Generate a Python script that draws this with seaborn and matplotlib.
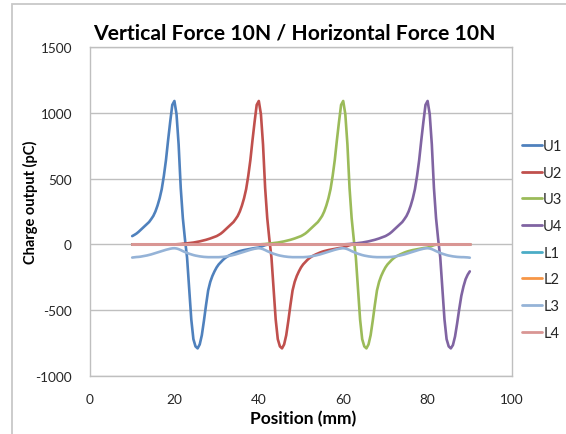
import matplotlib
matplotlib.use("Agg")
import matplotlib.pyplot as plt
import matplotlib.patches as mpatches
import seaborn as sns
import pandas as pd

positions = [
    10, 10.5, 11, 11.5, 12, 12.5, 13, 13.5, 14, 14.5, 15, 15.5, 16, 16.5, 17, 17.5, 18, 18.5, 19, 19.5,
    20, 20.5, 21, 21.5, 22, 22.5, 23, 23.5, 24, 24.5, 25, 25.5, 26, 26.5, 27, 27.5, 28, 28.5, 29, 29.5,
    30, 30.5, 31, 31.5, 32, 32.5, 33, 33.5, 34, 34.5, 35, 35.5, 36, 36.5, 37, 37.5, 38, 38.5, 39, 39.5,
    40, 40.5, 41, 41.5, 42, 42.5, 43, 43.5, 44, 44.5, 45, 45.5, 46, 46.5, 47, 47.5, 48, 48.5, 49, 49.5,
    50, 50.5, 51, 51.5, 52, 52.5, 53, 53.5, 54, 54.5, 55, 55.5, 56, 56.5, 57, 57.5, 58, 58.5, 59, 59.5,
    60, 60.5, 61, 61.5, 62, 62.5, 63, 63.5, 64, 64.5, 65, 65.5, 66, 66.5, 67, 67.5, 68, 68.5, 69, 69.5,
    70, 70.5, 71, 71.5, 72, 72.5, 73, 73.5, 74, 74.5, 75, 75.5, 76, 76.5, 77, 77.5, 78, 78.5, 79, 79.5,
    80, 80.5, 81, 81.5, 82, 82.5, 83, 83.5, 84, 84.5, 85, 85.5, 86, 86.5, 87, 87.5, 88, 88.5, 89, 89.5,
    90,
]

U1 = [
    63, 72, 82, 95, 110, 125, 140, 155, 170, 192, 216, 250, 295, 350, 420, 520, 640, 790, 930, 1060,
    1090, 990, 760, 430, 200, 40, -100, -340, -570, -720, -775, -790, -760, -690, -580, -460, -350, -285, -240, -205,
    -175, -152, -135, -118, -104, -93, -84, -76, -69, -62, -56, -51, -47, -43, -40, -37, -34, -31, -28, -26,
    -24, -18, -12, -6, -2, 0, 0, 0, 0, 0, 0, 0, 0, 0, 0, 0, 0, 0, 0, 0,
    0, 0, 0, 0, 0, 0, 0, 0, 0, 0, 0, 0, 0, 0, 0, 0, 0, 0, 0, 0,
    0, 0, 0, 0, 0, 0, 0, 0, 0, 0, 0, 0, 0, 0, 0, 0, 0, 0, 0, 0,
    0, 0, 0, 0, 0, 0, 0, 0, 0, 0, 0, 0, 0, 0, 0, 0, 0, 0, 0, 0,
    0, 0, 0, 0, 0, 0, 0, 0, 0, 0, 0, 0, 0, 0, 0, 0, 0, 0, 0, 0,
    0,
]

U2 = [
    0, 0, 0, 0, 0, 0, 0, 0, 0, 0, 0, 0, 0, 0, 0, 0, 0, 0, 0, 0,
    0, 1, 2, 3, 5, 6, 8, 10, 12, 14, 17, 20, 23, 27, 31, 35, 40, 45, 51, 57,
    63, 72, 82, 95, 110, 125, 140, 155, 170, 192, 216, 250, 295, 350, 420, 520, 640, 790, 930, 1060,
    1090, 990, 760, 430, 200, 40, -100, -340, -570, -720, -775, -790, -760, -690, -580, -460, -350, -285, -240, -205,
    -175, -152, -135, -118, -104, -93, -84, -76, -69, -62, -56, -51, -47, -43, -40, -37, -34, -31, -28, -26,
    -24, -18, -12, -6, -2, 0, 0, 0, 0, 0, 0, 0, 0, 0, 0, 0, 0, 0, 0, 0,
    0, 0, 0, 0, 0, 0, 0, 0, 0, 0, 0, 0, 0, 0, 0, 0, 0, 0, 0, 0,
    0, 0, 0, 0, 0, 0, 0, 0, 0, 0, 0, 0, 0, 0, 0, 0, 0, 0, 0, 0,
    0,
]

U3 = [
    0, 0, 0, 0, 0, 0, 0, 0, 0, 0, 0, 0, 0, 0, 0, 0, 0, 0, 0, 0,
    0, 0, 0, 0, 0, 0, 0, 0, 0, 0, 0, 0, 0, 0, 0, 0, 0, 0, 0, 0,
    0, 0, 0, 0, 0, 0, 0, 0, 0, 0, 0, 0, 0, 0, 0, 0, 0, 0, 0, 0,
    0, 1, 2, 3, 5, 6, 8, 10, 12, 14, 17, 20, 23, 27, 31, 35, 40, 45, 51, 57,
    63, 72, 82, 95, 110, 125, 140, 155, 170, 192, 216, 250, 295, 350, 420, 520, 640, 790, 930, 1060,
    1090, 990, 760, 430, 200, 40, -100, -340, -570, -720, -775, -790, -760, -690, -580, -460, -350, -285, -240, -205,
    -175, -152, -135, -118, -104, -93, -84, -76, -69, -62, -56, -51, -47, -43, -40, -37, -34, -31, -28, -26,
    -24, -18, -12, -6, -2, 0, 0, 0, 0, 0, 0, 0, 0, 0, 0, 0, 0, 0, 0, 0,
    0,
]

U4 = [
    0, 0, 0, 0, 0, 0, 0, 0, 0, 0, 0, 0, 0, 0, 0, 0, 0, 0, 0, 0,
    0, 0, 0, 0, 0, 0, 0, 0, 0, 0, 0, 0, 0, 0, 0, 0, 0, 0, 0, 0,
    0, 0, 0, 0, 0, 0, 0, 0, 0, 0, 0, 0, 0, 0, 0, 0, 0, 0, 0, 0,
    0, 0, 0, 0, 0, 0, 0, 0, 0, 0, 0, 0, 0, 0, 0, 0, 0, 0, 0, 0,
    0, 0, 0, 0, 0, 0, 0, 0, 0, 0, 0, 0, 0, 0, 0, 0, 0, 0, 0, 0,
    0, 1, 2, 3, 5, 6, 8, 10, 12, 14, 17, 20, 23, 27, 31, 35, 40, 45, 51, 57,
    63, 72, 82, 95, 110, 125, 140, 155, 170, 192, 216, 250, 295, 350, 420, 520, 640, 790, 930, 1060,
    1090, 990, 760, 430, 200, 40, -100, -340, -570, -720, -775, -790, -765, -700, -600, -490, -390, -320, -265, -230,
    -205,
]

L1 = [
    0, 0, 0, 0, 0, 0, 0, 0, 0, 0, 0, 0, 0, 0, 0, 0, 0, 0, 0, 0,
    0, 0, 0, 0, 0, 0, 0, 0, 0, 0, 0, 0, 0, 0, 0, 0, 0, 0, 0, 0,
    0, 0, 0, 0, 0, 0, 0, 0, 0, 0, 0, 0, 0, 0, 0, 0, 0, 0, 0, 0,
    0, 0, 0, 0, 0, 0, 0, 0, 0, 0, 0, 0, 0, 0, 0, 0, 0, 0, 0, 0,
    0, 0, 0, 0, 0, 0, 0, 0, 0, 0, 0, 0, 0, 0, 0, 0, 0, 0, 0, 0,
    0, 0, 0, 0, 0, 0, 0, 0, 0, 0, 0, 0, 0, 0, 0, 0, 0, 0, 0, 0,
    0, 0, 0, 0, 0, 0, 0, 0, 0, 0, 0, 0, 0, 0, 0, 0, 0, 0, 0, 0,
    0, 0, 0, 0, 0, 0, 0, 0, 0, 0, 0, 0, 0, 0, 0, 0, 0, 0, 0, 0,
    0,
]

L2 = [
    0, 0, 0, 0, 0, 0, 0, 0, 0, 0, 0, 0, 0, 0, 0, 0, 0, 0, 0, 0,
    0, 0, 0, 0, 0, 0, 0, 0, 0, 0, 0, 0, 0, 0, 0, 0, 0, 0, 0, 0,
    0, 0, 0, 0, 0, 0, 0, 0, 0, 0, 0, 0, 0, 0, 0, 0, 0, 0, 0, 0,
    0, 0, 0, 0, 0, 0, 0, 0, 0, 0, 0, 0, 0, 0, 0, 0, 0, 0, 0, 0,
    0, 0, 0, 0, 0, 0, 0, 0, 0, 0, 0, 0, 0, 0, 0, 0, 0, 0, 0, 0,
    0, 0, 0, 0, 0, 0, 0, 0, 0, 0, 0, 0, 0, 0, 0, 0, 0, 0, 0, 0,
    0, 0, 0, 0, 0, 0, 0, 0, 0, 0, 0, 0, 0, 0, 0, 0, 0, 0, 0, 0,
    0, 0, 0, 0, 0, 0, 0, 0, 0, 0, 0, 0, 0, 0, 0, 0, 0, 0, 0, 0,
    0,
]

L3 = [
    -100, -98, -96, -95, -93, -90, -87, -84, -80, -76, -71, -66, -61, -56, -51, -46, -41, -37, -33, -30,
    -29, -31, -36, -43, -51, -58, -65, -71, -76, -81, -85, -88, -91, -93, -95, -96, -97, -97, -97, -97,
    -97, -97, -96, -95, -93, -90, -87, -84, -80, -76, -71, -66, -61, -56, -51, -46, -41, -37, -33, -30,
    -29, -31, -36, -43, -51, -58, -65, -71, -76, -81, -85, -88, -91, -93, -95, -96, -97, -97, -97, -97,
    -97, -97, -96, -95, -93, -90, -87, -84, -80, -76, -71, -66, -61, -56, -51, -46, -41, -37, -33, -30,
    -29, -31, -36, -43, -51, -58, -65, -71, -76, -81, -85, -88, -91, -93, -95, -96, -97, -97, -97, -97,
    -97, -97, -96, -95, -93, -90, -87, -84, -80, -76, -71, -66, -61, -56, -51, -46, -41, -37, -33, -30,
    -29, -31, -36, -43, -51, -58, -65, -71, -76, -81, -85, -88, -91, -93, -95, -96, -97, -97, -98, -99,
    -101,
]

L4 = [
    0, 0, 0, 0, 0, 0, 0, 0, 0, 0, 0, 0, 0, 0, 0, 0, 0, 0, 0, 0,
    0, 0, 0, 0, 0, 0, 0, 0, 0, 0, 0, 0, 0, 0, 0, 0, 0, 0, 0, 0,
    0, 0, 0, 0, 0, 0, 0, 0, 0, 0, 0, 0, 0, 0, 0, 0, 0, 0, 0, 0,
    0, 0, 0, 0, 0, 0, 0, 0, 0, 0, 0, 0, 0, 0, 0, 0, 0, 0, 0, 0,
    0, 0, 0, 0, 0, 0, 0, 0, 0, 0, 0, 0, 0, 0, 0, 0, 0, 0, 0, 0,
    0, 0, 0, 0, 0, 0, 0, 0, 0, 0, 0, 0, 0, 0, 0, 0, 0, 0, 0, 0,
    0, 0, 0, 0, 0, 0, 0, 0, 0, 0, 0, 0, 0, 0, 0, 0, 0, 0, 0, 0,
    0, 0, 0, 0, 0, 0, 0, 0, 0, 0, 0, 0, 0, 0, 0, 0, 0, 0, 0, 0,
    0,
]

series_names = ["U1", "U2", "U3", "U4", "L1", "L2", "L3", "L4"]
series_values = [U1, U2, U3, U4, L1, L2, L3, L4]
colors = ["#4F81BD", "#C0504D", "#9BBB59", "#8064A2",
          "#4BACC6", "#F79646", "#95B3D7", "#D99694"]

x_ticks = [0, 20, 40, 60, 80, 100]
y_ticks = [-1000, -500, 0, 500, 1000, 1500]

title = "Vertical Force 10N / Horizontal Force 10N"
x_label = "Position (mm)"
y_label = "Charge output (pC)"

frames = []
for name, vals in zip(series_names, series_values):
    frames.append(pd.DataFrame({"Position": positions, "Charge": vals, "Series": name}))
df = pd.concat(frames, ignore_index=True)

sns.set_theme(style="white")
plt.rcParams["font.family"] = ["Lato", "DejaVu Sans"]

W, H = 566, 435
fig = plt.figure(figsize=(W / 100, H / 100), dpi=100)
ax = fig.add_axes([90 / W, 1 - 377 / H, (512 - 90) / W, (377 - 48) / H])

palette = dict(zip(series_names, colors))
sns.lineplot(data=df, x="Position", y="Charge", hue="Series", hue_order=series_names,
             palette=palette, sort=False, estimator=None, linewidth=1.9, ax=ax, legend=True)
for line, name in zip(ax.get_lines(), series_names):
    if name == "L4":
        line.set_linewidth(2.2)

ax.set_xlim(0, 100)
ax.set_ylim(-1000, 1500)
ax.set_xticks(x_ticks)
ax.set_yticks(y_ticks)
ax.set_xticklabels([str(t) for t in x_ticks])
ax.set_yticklabels([str(t) for t in y_ticks])
ax.grid(axis="y", color="#BFBFBF", linewidth=1.0)
ax.grid(axis="x", visible=False)
ax.set_axisbelow(True)
for sp in ax.spines.values():
    sp.set_color("#BFBFBF")
    sp.set_linewidth(1.0)
ax.tick_params(axis="x", direction="in", length=4, color="#BFBFBF", width=1,
               pad=12, labelsize=9.8, labelcolor="#262626")
ax.tick_params(axis="y", length=0, pad=13, labelsize=9.8, labelcolor="#262626")
ax.set_xlabel("")
ax.set_ylabel("")

handles, labels = ax.get_legend_handles_labels()
leg = ax.legend(handles, labels, loc="upper left", bbox_to_anchor=(522 / W, 1 - 140 / H),
                bbox_transform=fig.transFigure, frameon=False, fontsize=10.5,
                handlelength=1.35, handletextpad=0.1, labelspacing=0.87,
                borderaxespad=0, borderpad=0)
for t in leg.get_texts():
    t.set_color("#262626")
for lh in leg.get_lines():
    lh.set_linewidth(2.0)

fig.text(294 / W, 1 - 33 / H, title, ha="center", va="center",
         fontsize=15.2, fontweight="bold", color="black")
fig.text(30 / W, 1 - 202 / H, y_label, ha="center", va="center", rotation=90,
         fontsize=10.5, fontweight="bold", color="black")
fig.text(303 / W, 1 - 419 / H, x_label, ha="center", va="center",
         fontsize=12.5, fontweight="bold", color="black")

border = mpatches.Rectangle((12 / W, -0.1), 1.2, 1 - 5 / H + 0.1, transform=fig.transFigure,
                            fill=False, edgecolor="#C8C8C8", linewidth=1.3, clip_on=False)
fig.patches.append(border)

fig.savefig("out.png", dpi=100)
